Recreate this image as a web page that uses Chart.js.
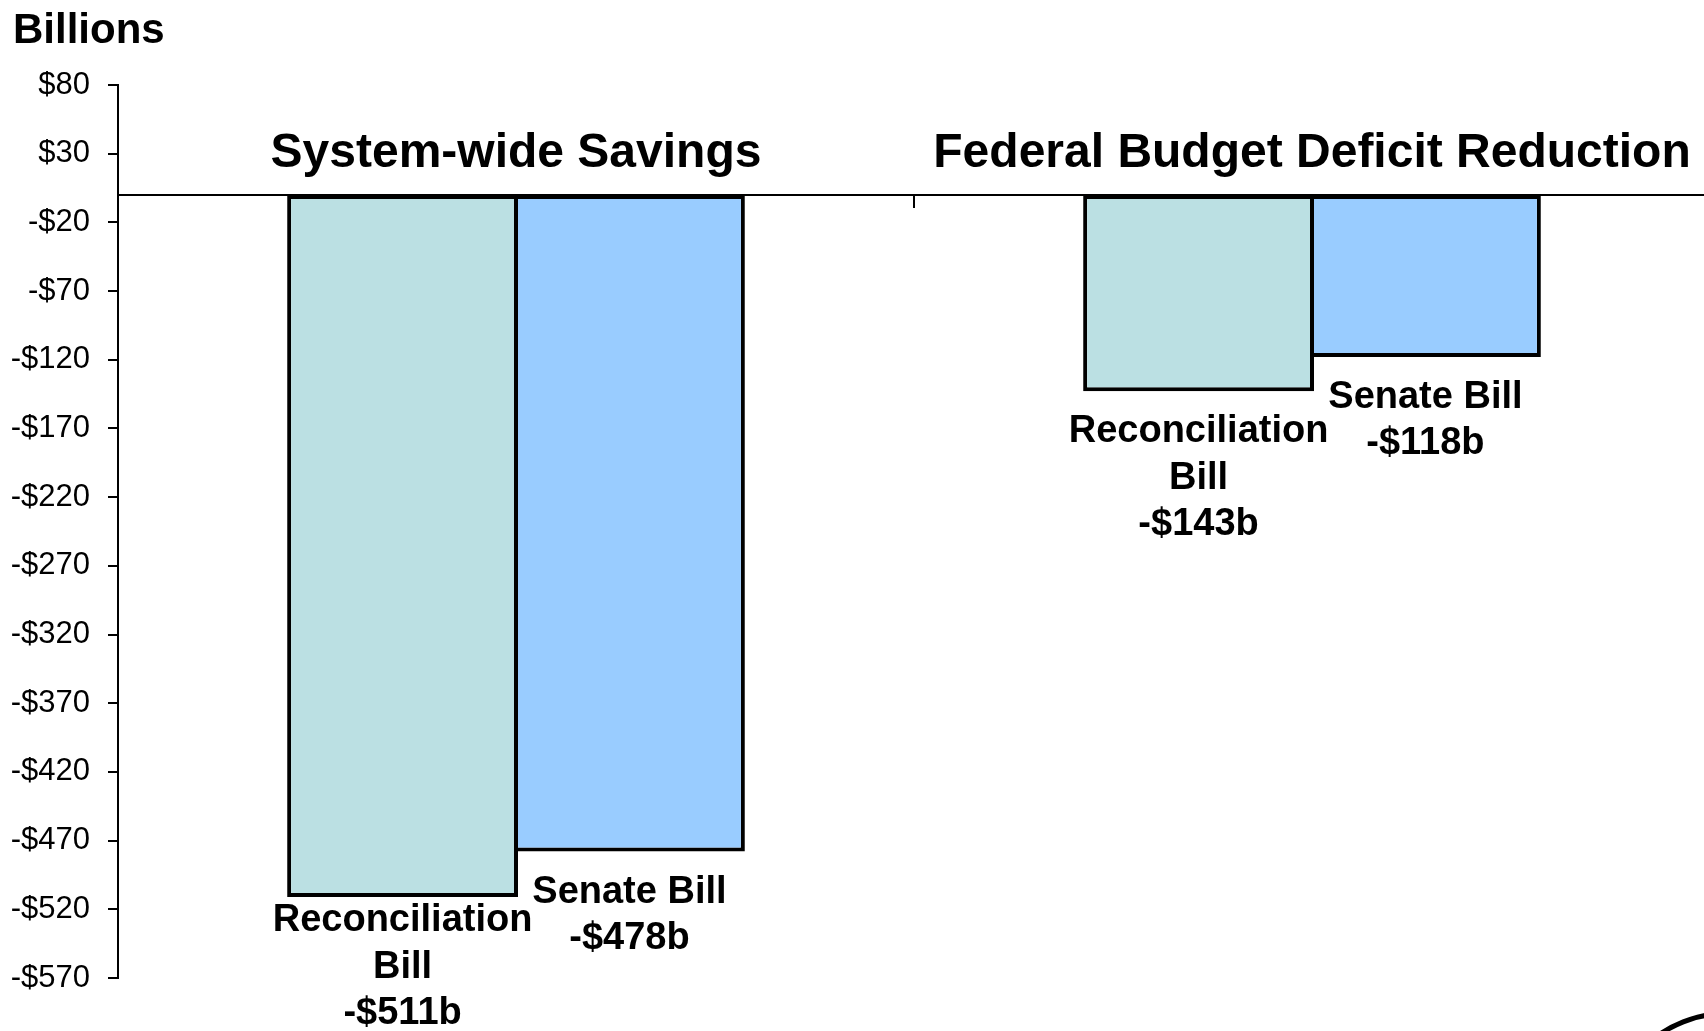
<!DOCTYPE html>
<html><head><meta charset="utf-8">
<script src="https://cdn.jsdelivr.net/npm/chart.js@4.4.1/dist/chart.umd.min.js"></script>
<style>html,body{margin:0;padding:0;overflow:hidden;background:#fff}canvas{display:block}</style>
</head><body>
<canvas id="c" width="1712" height="1031"></canvas>
<script>
// ---- data ----
const categories = ['System-wide Savings', 'Federal Budget Deficit Reduction'];
const seriesNames = ['Reconciliation Bill', 'Senate Bill'];
const seriesLabelLines = [['Reconciliation', 'Bill'], ['Senate Bill']];
const reconciliationValues = [-511, -143];
const senateValues = [-478, -118];
const yMin = -570, yMax = 80, yStep = 50;
const axisTitle = 'Billions';

// ---- style ----
const FONT = '"Liberation Sans", Arial, Helvetica, sans-serif';
const fmt = v => (v < 0 ? '-$' : '$') + Math.abs(v);
const BORDER = 4;
const CAT_PCT = 0.57;

const annotate = {
  id: 'annotate',
  afterDraw(chart) {
    const ctx = chart.ctx, xs = chart.scales.x, ys = chart.scales.y;
    ctx.save();
    ctx.fillStyle = '#000';
    ctx.textBaseline = 'alphabetic';
    ctx.textAlign = 'left';
    ctx.font = 'bold 42px ' + FONT;
    ctx.fillText(axisTitle, 13, 43);
    ctx.textAlign = 'center';
    ctx.font = 'bold 48px ' + FONT;
    categories.forEach((c, i) => ctx.fillText(c, xs.getPixelForValue(i), ys.top + 82));
    ctx.font = 'bold 38px ' + FONT;
    const lh = 46.3;
    chart.data.datasets.forEach((ds, di) => {
      const meta = chart.getDatasetMeta(di);
      meta.data.forEach((bar, j) => {
        const lines = seriesLabelLines[di].concat([fmt(ds.data[j]) + 'b']);
        let base = bar.y + 51;
        const last = base + lh * (lines.length - 1);
        const limit = chart.height - 7;
        if (last > limit) base -= last - limit;
        lines.forEach((t, k) => ctx.fillText(t, bar.x, base + k * lh));
      });
    });
    // partial logo circle at bottom-right corner
    ctx.beginPath();
    ctx.lineWidth = 5;
    ctx.strokeStyle = '#000';
    ctx.arc(1730, 1140, 127, Math.PI, 2 * Math.PI);
    ctx.stroke();
    ctx.restore();
  }
};

const chartAreaW = 1710 - 118;
const slot = chartAreaW / categories.length * CAT_PCT / seriesNames.length;
const barPct = (slot + BORDER) / slot;

new Chart(document.getElementById('c'), {
  type: 'bar',
  data: {
    labels: categories,
    datasets: [
      { label: seriesNames[0], data: reconciliationValues, backgroundColor: '#BBE0E3', borderColor: '#000', borderWidth: BORDER, borderSkipped: false },
      { label: seriesNames[1], data: senateValues, backgroundColor: '#99CCFF', borderColor: '#000', borderWidth: BORDER, borderSkipped: false }
    ]
  },
  options: {
    responsive: false,
    animation: false,
    layout: { padding: { left: 0, top: 85, right: 2, bottom: 53 } },
    datasets: { bar: { categoryPercentage: CAT_PCT, barPercentage: barPct } },
    plugins: { legend: { display: false }, tooltip: { enabled: false }, title: { display: false } },
    scales: {
      x: {
        position: { y: 0 },
        offset: true,
        grid: { display: true, offset: true, drawOnChartArea: false, drawTicks: true, tickLength: 12, color: '#000', lineWidth: 2 },
        border: { display: true, color: '#000', width: 2 },
        ticks: { display: false }
      },
      y: {
        position: 'left',
        min: yMin, max: yMax,
        ticks: { stepSize: yStep, padding: 18, color: '#000', autoSkip: false, font: { family: FONT, size: 31 }, callback: v => fmt(v) },
        grid: { drawOnChartArea: false, drawTicks: true, tickLength: 10, color: '#000', lineWidth: 2 },
        border: { display: true, color: '#000', width: 2 },
        afterFit: s => { s.width = 118; }
      }
    }
  },
  plugins: [annotate]
});
</script>
</body></html>
